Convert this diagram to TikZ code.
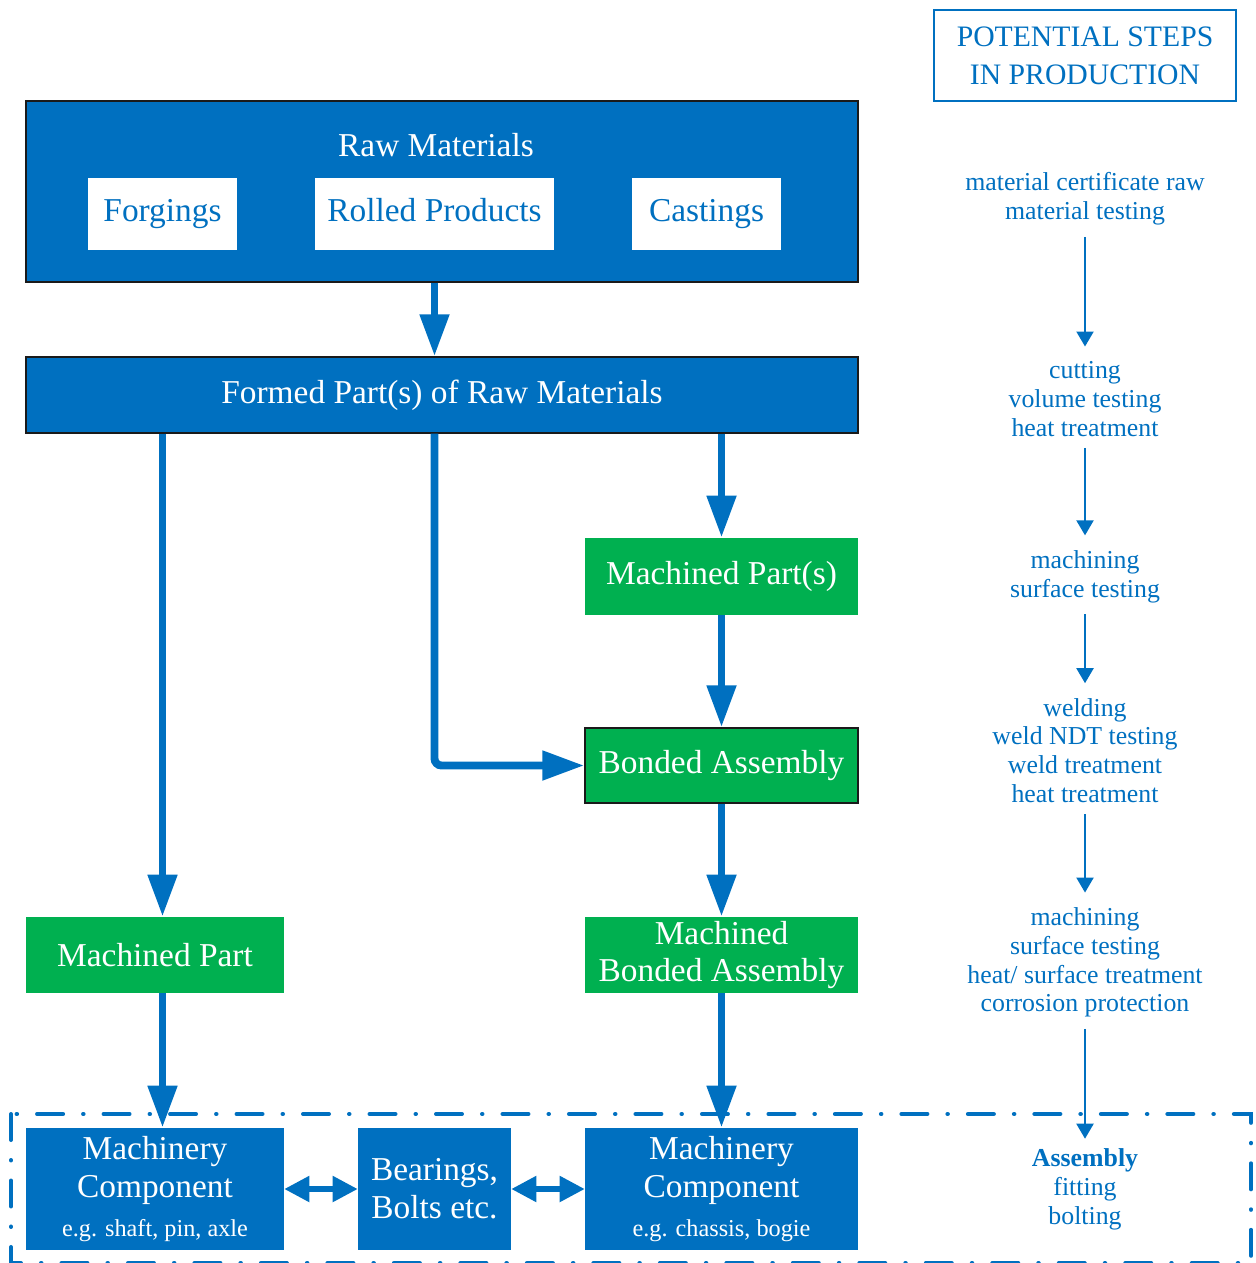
\documentclass[tikz,border=0pt]{standalone}
\usepackage{fontspec}
\setmainfont{Liberation Serif}
\usepackage{xcolor}
\usepackage{tikz}
\usetikzlibrary{arrows.meta,calc,positioning}
\definecolor{bluemain}{HTML}{0070C0}
\definecolor{greenmain}{HTML}{00B050}
\definecolor{blackmain}{HTML}{1A1A1A}
\newcommand{\boxfont}{\fontsize{19}{21.5}\selectfont}
\newcommand{\stepfont}{\fontsize{14.7}{16.4}\selectfont}
\newcommand{\egfont}{\fontsize{13.8}{16}\selectfont}
\newcommand{\headfont}{\fontsize{16.9}{21.5}\selectfont}
\tikzset{every node/.append style={font=\rmfamily}}

\begin{document}
\begin{tikzpicture}[x=0.02cm,y=-0.02cm,
  bluebox/.style={fill=bluemain,text=white,font=\boxfont,align=center,inner sep=0pt},
  greenbox/.style={fill=greenmain,text=white,font=\boxfont,align=center,inner sep=0pt},
  whitebox/.style={fill=white,text=bluemain,font=\boxfont,inner sep=0pt,text height=0.9em,text depth=0.06em},
  edged/.style={draw=blackmain,line width=0.8pt},
  steptext/.style={text=bluemain,font=\stepfont,align=center},
  bigarrow/.style={-{Triangle[length=0.84cm,width=0.56cm]},line width=4.5pt,bluemain},
  twoarrow/.style={{Triangle[length=0.5cm,width=0.5cm]}-{Triangle[length=0.5cm,width=0.5cm]},line width=3pt,bluemain},
  steparrow/.style={-{Triangle[length=0.3cm,width=0.34cm]},line width=1.2pt,bluemain,shorten <=3pt,shorten >=5pt}]
  \useasboundingbox (0,0) rectangle (1255,1263);
  \draw[bluemain,line width=2.27pt,line cap=round,
    dash pattern=on 0.52cm off 0.4cm on 0.01cm off 0.4cm] (11,1114) rectangle (1251,1263);
  \node[draw=bluemain,line width=1.1pt,text=bluemain,font=\headfont,align=center,
    minimum width=6.04cm,minimum height=1.82cm] (head) at (1085,55.5) {POTENTIAL STEPS\\IN PRODUCTION};
  \node[bluebox,edged,minimum width=16.64cm,minimum height=3.62cm] (raw) at (442,191.5) {};
  \node[text=white,font=\boxfont] (rawlbl) at (436,145) {Raw Materials};
  \node[whitebox,minimum width=2.98cm,minimum height=1.44cm] (forg) at (162.5,214) {Forgings};
  \node[whitebox,minimum width=4.78cm,minimum height=1.44cm] (rolled) at (434.5,214) {Rolled Products};
  \node[whitebox,minimum width=2.98cm,minimum height=1.44cm] (cast) at (706.5,214) {Castings};
  \node[bluebox,edged,minimum width=16.64cm,minimum height=1.52cm] (formed) at (442,395) {Formed Part(s) of Raw Materials};
  \node[greenbox,minimum width=5.46cm,minimum height=1.54cm] (mps) at (721.5,576.5) {Machined Part(s)};
  \node[greenbox,edged,minimum width=5.46cm,minimum height=1.5cm] (bonded) at (721.5,765.5) {Bonded Assembly};
  \node[greenbox,minimum width=5.46cm,minimum height=1.52cm] (mba) at (721.5,955) {Machined\\Bonded Assembly};
  \node[greenbox,minimum width=5.16cm,minimum height=1.52cm] (mp) at (155,955) {Machined Part};
  \node[bluebox,minimum width=5.16cm,minimum height=2.44cm] (mc1) at (155,1189)
    {Machinery\\Component\\[1pt]{\egfont e.g. shaft, pin, axle}};
  \node[bluebox,minimum width=3.06cm,minimum height=2.44cm] (bear) at (434.5,1189) {Bearings,\\Bolts etc.};
  \node[bluebox,minimum width=5.46cm,minimum height=2.44cm] (mc2) at (721.5,1189)
    {Machinery\\Component\\[1pt]{\egfont e.g. chassis, bogie}};
  \draw[bigarrow] (rolled |- raw.south) -- (rolled |- formed.north);
  \draw[bigarrow] (forg |- formed.south) -- (forg |- mp.north);
  \draw[bigarrow,rounded corners=4pt] (rolled |- formed.south) |- (bonded.west);
  \draw[bigarrow] (mps |- formed.south) -- (mps.north);
  \draw[bigarrow] (mps.south) -- (bonded.north);
  \draw[bigarrow] (bonded.south) -- (mba.north);
  \draw[bigarrow] (forg |- mp.south) -- (forg |- mc1.north);
  \draw[bigarrow] (mba.south) -- (mc2.north);
  \draw[twoarrow] (mc1.east) -- (bear.west);
  \draw[twoarrow] (bear.east) -- (mc2.west);
  \node[steptext] (st1) at (1085,199) {material certificate raw\\material testing};
  \node[steptext] (st2) at (1085,399) {cutting\\volume testing\\heat treatment};
  \node[steptext] (st3) at (1085,576.5) {machining\\surface testing};
  \node[steptext] (st4) at (1085,750.5) {welding\\weld NDT testing\\weld treatment\\heat treatment};
  \node[steptext] (st5) at (1085,962.5) {machining\\surface testing\\heat/ surface treatment\\corrosion protection};
  \node[steptext] (st6) at (1085,1189) {\textbf{Assembly}\\fitting\\bolting};
  \draw[steparrow] (st1) -- (st2);
  \draw[steparrow] (st2) -- (st3);
  \draw[steparrow] (st3) -- (st4);
  \draw[steparrow] (st4) -- (st5);
  \draw[steparrow,shorten >=2pt] (st5) -- (st6);
\end{tikzpicture}
\end{document}
